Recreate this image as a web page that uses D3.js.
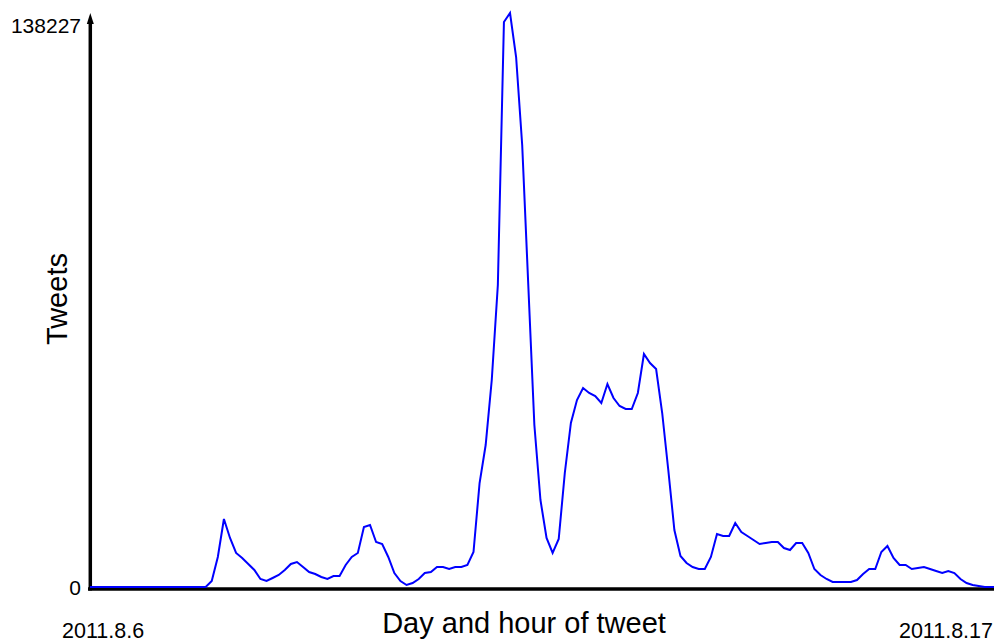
<!DOCTYPE html>
<html>
<head>
<meta charset="utf-8">
<script src="https://cdn.jsdelivr.net/npm/d3@7"></script>
<style>
  html, body { margin: 0; padding: 0; background: #fff; }
  svg { display: block; font-family: "Liberation Sans", Arial, Helvetica, sans-serif; }
</style>
</head>
<body>
<svg id="chart" width="994" height="643"></svg>
<script>
// Tweets per time step from 2011.8.6 to 2011.8.17
const tweets = [
  0,0,0,0,0,0,0,0,0,0,
  0,0,0,0,0,0,0,0,0,0,
  1445,7224,16375,11800,8188,6983,5539,4094,1926,1445,
  2167,2890,4094,5539,6020,4816,3612,3131,2408,1926,
  2649,2649,5298,7224,8188,14449,14930,10836,10355,7224,
  3371,1445,482,963,1926,3371,3612,4816,4816,4335,
  4816,4816,5298,8428,25044,34195,49848,72725,136058,138227,
  127629,106438,72725,39011,20950,11800,8188,11559,27452,39493,
  45031,47921,46717,45995,44309,48884,45513,43587,42864,42864,
  46717,56109,53941,52497,41901,28175,13726,7465,5779,4816,
  4335,4335,7224,12763,12281,12281,15412,13245,12281,11318,
  10355,10596,10836,10836,9392,8910,10596,10596,8188,4335,
  2890,1926,1204,1204,1204,1204,1686,3131,4335,4335,
  8428,9873,6983,5298,5298,4335,4575,4816,4335,3853,
  3371,3853,3371,1926,963,482,241,0,0,0
];
const yTickValues = [0, 138227];
const dateLabels = ["2011.8.6", "2011.8.17"];
const xTitle = "Day and hour of tweet";
const yTitle = "Tweets";

const svg = d3.select("#chart");

const x = d3.scaleLinear().domain([0, tweets.length - 1]).range([90, 997]);
const y = d3.scaleLinear().domain([0, d3.max(yTickValues)]).range([587, 13]);

const axisColor = "#000";
svg.append("line")
  .attr("x1", 88).attr("x2", 994)
  .attr("y1", 589).attr("y2", 589)
  .attr("stroke", axisColor).attr("stroke-width", 3.5);

svg.append("line")
  .attr("x1", 90.3).attr("x2", 90.3)
  .attr("y1", 590.5).attr("y2", 20)
  .attr("stroke", axisColor).attr("stroke-width", 3.5);

svg.append("path")
  .attr("d", d3.line()([[86.8, 24], [90.3, 13], [93.8, 24]]) + "Z")
  .attr("fill", axisColor);

svg.selectAll("text.ytick")
  .data(yTickValues)
  .enter().append("text")
  .attr("class", "ytick")
  .attr("x", 81)
  .attr("y", d => d === 0 ? y(d) + 8 : 33)
  .attr("text-anchor", "end")
  .attr("font-size", 21)
  .attr("fill", "#000")
  .text(d => d);

svg.append("text")
  .attr("x", x(0) - 28)
  .attr("y", 638)
  .attr("text-anchor", "start")
  .attr("font-size", 21.5)
  .attr("fill", "#000")
  .text(dateLabels[0]);

svg.append("text")
  .attr("x", 993)
  .attr("y", 638)
  .attr("text-anchor", "end")
  .attr("font-size", 21.5)
  .attr("fill", "#000")
  .text(dateLabels[1]);

svg.append("text")
  .attr("x", 524)
  .attr("y", 633)
  .attr("text-anchor", "middle")
  .attr("font-size", 29)
  .attr("fill", "#000")
  .text(xTitle);

svg.append("text")
  .attr("transform", "translate(67,299) rotate(-90)")
  .attr("text-anchor", "middle")
  .attr("font-size", 29)
  .attr("fill", "#000")
  .text(yTitle);

const line = d3.line()
  .x((d, i) => x(i))
  .y(d => y(d));

svg.append("path")
  .datum(tweets)
  .attr("d", line)
  .attr("fill", "none")
  .attr("stroke", "#0000ff")
  .attr("stroke-width", 2)
  .attr("stroke-linejoin", "miter");
</script>
</body>
</html>
